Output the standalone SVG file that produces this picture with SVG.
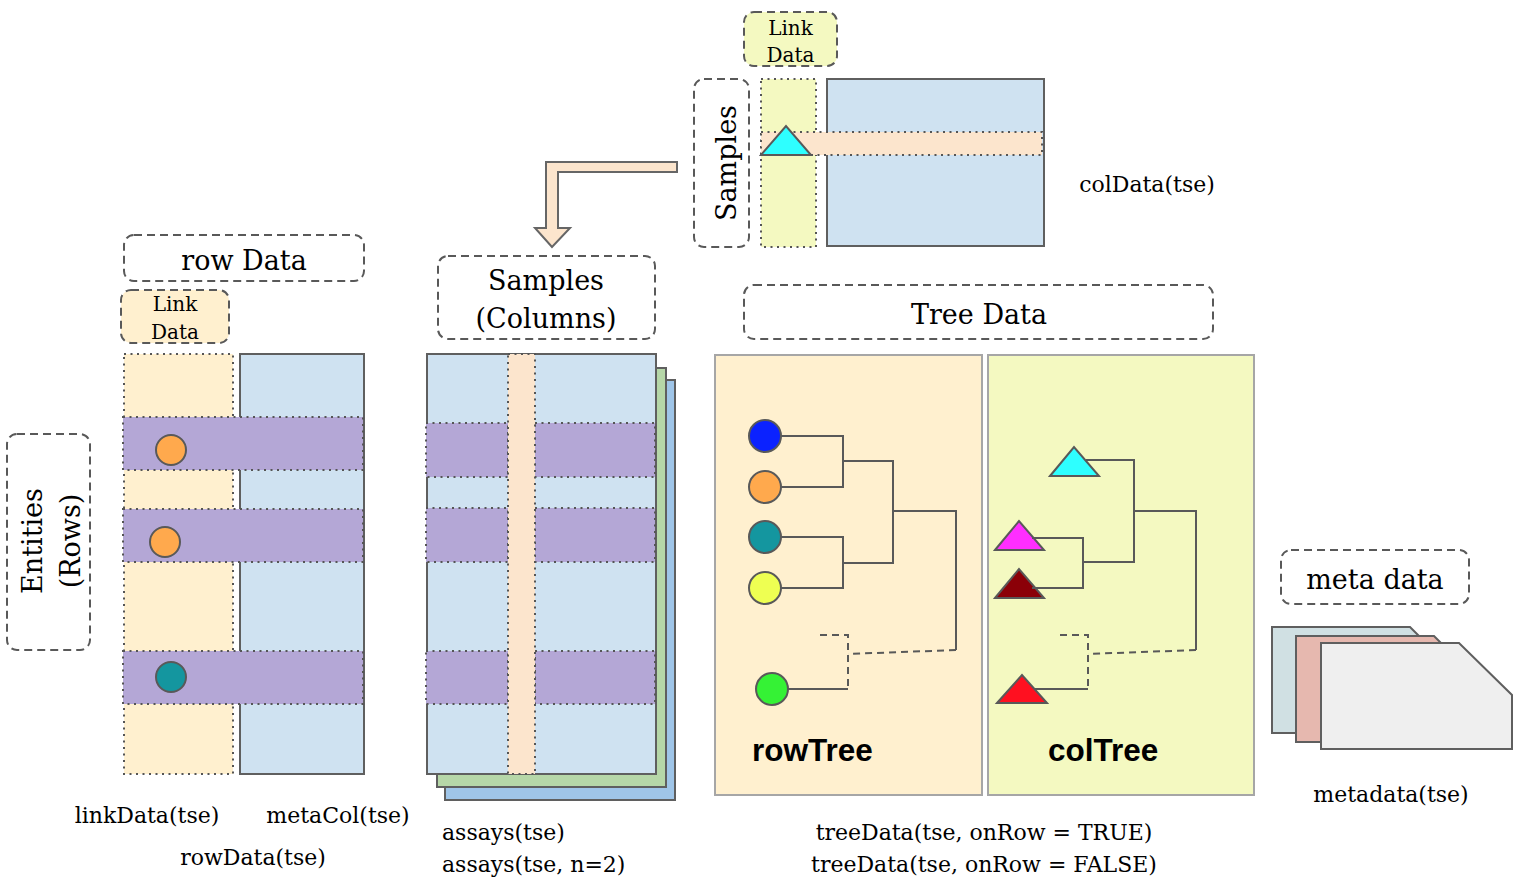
<svg xmlns="http://www.w3.org/2000/svg" width="1522" height="882" viewBox="0 0 1522 882">
<style>
text{font-family:"DejaVu Serif","Liberation Serif",serif;fill:#000}
.lbl{font-size:22px}
.big{font-size:27px}
.sm{font-size:20px}
.bold{font-family:"Liberation Sans",Arial,sans-serif;font-weight:bold;font-size:31.5px}
.dash{fill:#fff;stroke:#595959;stroke-width:2;stroke-dasharray:8 5}
.dot{stroke:#555;stroke-width:2;stroke-dasharray:2 4.5}
.solid{stroke:#5f5f5f;stroke-width:2}
.panel{stroke:#a6a6a6;stroke-width:2}
.edge{fill:none;stroke:#595959;stroke-width:2}
.edash{fill:none;stroke:#595959;stroke-width:2;stroke-dasharray:7 5}
.mark{stroke:#595959;stroke-width:2}
.blue{fill:#cfe2f1}
.purple{fill:#b4a7d6}
.peach{fill:#fce5cd}
.cream{fill:#fff0cf}
.lemon{fill:#f4f9c1}
</style>

<!-- colData group (top) -->
<g id="colLinkLabel">
<rect x="744" y="12" width="93" height="54" rx="10" class="dash" style="fill:#f4f9c1"/>
<text class="sm" x="790.5" y="35" text-anchor="middle">Link</text>
<text class="sm" x="790.5" y="62" text-anchor="middle">Data</text>
</g>
<g id="samplesLabel">
<rect x="694" y="79" width="55" height="168" rx="10" class="dash"/>
<text class="big" transform="translate(736,163) rotate(-90)" text-anchor="middle">Samples</text>
</g>
<g id="colData">
<rect x="761" y="79" width="55" height="168" class="lemon dot"/>
<rect x="827" y="79" width="217" height="167" class="blue solid"/>
<rect x="761" y="132" width="281" height="23" class="peach dot"/>
<polygon points="761,155 786,126 811,155" fill="#2effff" class="mark"/>
<text class="lbl" x="1147" y="192" text-anchor="middle">colData(tse)</text>
</g>

<!-- rowData -->
<g id="rowDataLabel">
<rect x="124" y="235" width="240" height="46" rx="10" class="dash"/>
<text class="big" x="244" y="270" text-anchor="middle">row Data</text>
</g>
<g id="rowLinkLabel">
<rect x="121" y="290" width="108" height="53" rx="10" class="dash" style="fill:#fff0cf"/>
<text class="sm" x="175" y="311" text-anchor="middle">Link</text>
<text class="sm" x="175" y="339" text-anchor="middle">Data</text>
</g>
<g id="entitiesLabel">
<rect x="7" y="434" width="83" height="216" rx="10" class="dash"/>
<text class="big" transform="translate(48,541) rotate(-90)" text-anchor="middle"><tspan x="0" y="-6">Entities</tspan><tspan x="0" y="32">(Rows)</tspan></text>
</g>
<g id="rowData">
<rect x="124" y="354" width="109" height="420" class="cream dot"/>
<rect x="240" y="354" width="124" height="420" class="blue solid"/>
<rect x="123" y="417" width="240" height="53" class="purple dot"/>
<rect x="123" y="509" width="240" height="53" class="purple dot"/>
<rect x="123" y="651" width="240" height="53" class="purple dot"/>
<circle cx="171" cy="450" r="15" fill="#ffa94d" class="mark"/>
<circle cx="165" cy="542" r="15" fill="#ffa94d" class="mark"/>
<circle cx="171" cy="677" r="15" fill="#14969f" class="mark"/>
<text class="lbl" x="147" y="823" text-anchor="middle">linkData(tse)</text>
<text class="lbl" x="338" y="823" text-anchor="middle">metaCol(tse)</text>
<text class="lbl" x="253" y="865" text-anchor="middle">rowData(tse)</text>
</g>

<!-- assays -->
<g id="assaysLabel">
<rect x="438" y="256" width="217" height="83" rx="10" class="dash"/>
<text class="big" x="546" y="290" text-anchor="middle">Samples</text>
<text class="big" x="546" y="328" text-anchor="middle">(Columns)</text>
</g>
<g id="assays">
<rect x="445" y="380" width="230" height="420" fill="#9fc5e8" class="solid"/>
<rect x="437" y="368" width="229" height="419" fill="#b6d7a8" class="solid"/>
<rect x="427" y="354" width="229" height="420" class="blue solid"/>
<rect x="426" y="423" width="82" height="54" class="purple dot"/>
<rect x="535" y="423" width="120" height="54" class="purple dot"/>
<rect x="426" y="508" width="82" height="54" class="purple dot"/>
<rect x="535" y="508" width="120" height="54" class="purple dot"/>
<rect x="426" y="651" width="82" height="53" class="purple dot"/>
<rect x="535" y="651" width="120" height="53" class="purple dot"/>
<rect x="508" y="354" width="27" height="420" class="peach dot"/>
<text class="lbl" x="442" y="840">assays(tse)</text>
<text class="lbl" x="442" y="872">assays(tse, n=2)</text>
</g>

<!-- tree data -->
<g id="treeDataLabel">
<rect x="744" y="285" width="469" height="54" rx="10" class="dash"/>
<text class="big" x="979" y="324" text-anchor="middle">Tree Data</text>
</g>
<g id="rowTree">
<rect x="715" y="355" width="267" height="440" class="cream panel"/>
<circle cx="765" cy="436" r="16" fill="#0b22ff" class="mark"/>
<circle cx="765" cy="487" r="16" fill="#ffa94d" class="mark"/>
<circle cx="765" cy="537" r="16" fill="#14969f" class="mark"/>
<circle cx="765" cy="588" r="16" fill="#eeff52" class="mark"/>
<circle cx="772" cy="689" r="16" fill="#35f235" class="mark"/>
<text class="bold" x="752" y="761">rowTree</text>
</g>
<g id="colTree">
<rect x="988" y="355" width="266" height="440" class="lemon panel"/>
<polygon points="1050,476 1074,447 1099,476" fill="#2effff" class="mark"/>
<polygon points="995,550 1019,521 1044,550" fill="#ff2eff" class="mark"/>
<polygon points="995,598 1019,569 1044,598" fill="#8b0008" class="mark"/>
<polygon points="997,703 1022,675 1047,703" fill="#ff1020" class="mark"/>
<text class="bold" x="1048" y="761">colTree</text>
</g>
<g id="treeDataText">
<text class="lbl" x="984" y="840" text-anchor="middle">treeData(tse, onRow = TRUE)</text>
<text class="lbl" x="984" y="872" text-anchor="middle">treeData(tse, onRow = FALSE)</text>
</g>

<!-- metadata -->
<g id="metaLabel">
<rect x="1281" y="550" width="188" height="54" rx="10" class="dash"/>
<text class="big" x="1375" y="589" text-anchor="middle">meta data</text>
</g>
<g id="metadata">
<polygon points="1272,627 1410,627 1463,680 1463,733 1272,733" fill="#d0e0e3" class="solid"/>
<polygon points="1296,636 1434,636 1487,689 1487,742 1296,742" fill="#e6b8af" class="solid"/>
<polygon points="1321,643 1459,643 1512,695 1512,749 1321,749" fill="#efefef" class="solid"/>
<text class="lbl" x="1391" y="802" text-anchor="middle">metadata(tse)</text>
</g>

<!-- connectors -->
<g id="connectors">
<path d="M677,162 L546,162 L546,228 L535,228 L552,247 L570,228 L558,228 L558,172 L677,172 Z" fill="#fce5cd" stroke="#666" stroke-width="2"/>
<path class="edge" d="M781,436 H843 V487 H781 M843,461 H893 V563 H843 M781,537 H843 V588 H781 M893,511 H956 V650 M788,689 H848"/>
<path class="edash" d="M956,650 L848,654 M820,635 H848 V689"/>
<path class="edge" d="M1086,460 H1134 V562 H1083 M1032,538 H1083 V588 H1032 M1134,511 H1196 V650 M1035,689 H1088"/>
<path class="edash" d="M1196,650 L1088,654 M1060,635 H1088 V689"/>
</g>
</svg>
